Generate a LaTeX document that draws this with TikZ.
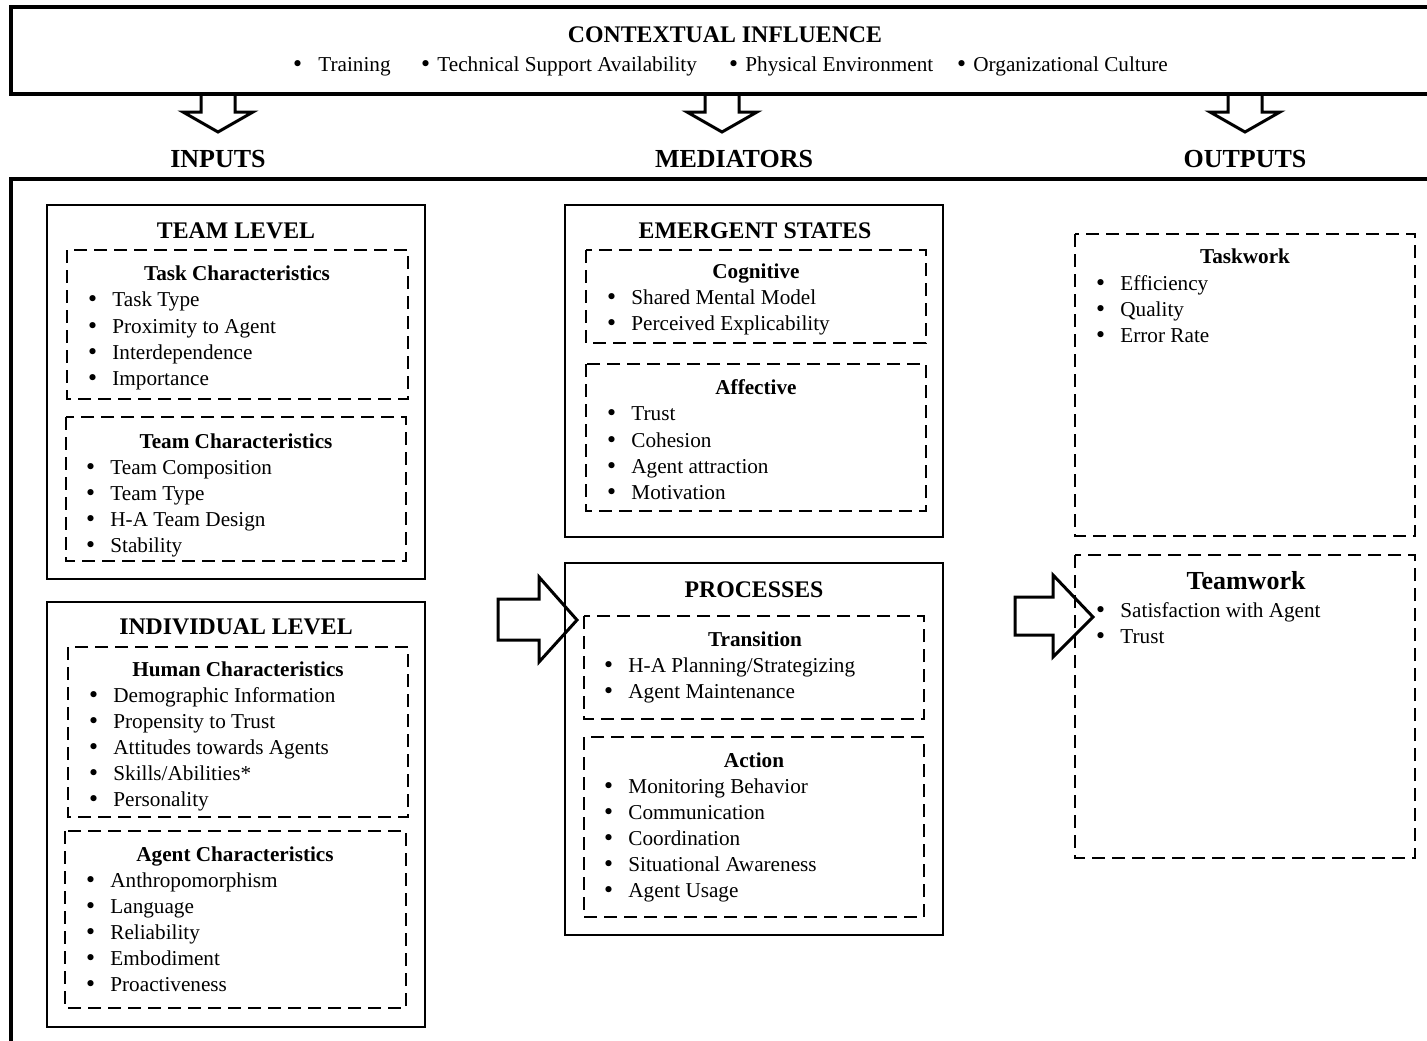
\documentclass[tikz,border=0pt]{standalone}
\usepackage{fontspec}
\setmainfont{Liberation Serif}
\newfontfamily\dotfont{DejaVu Sans}
\usetikzlibrary{positioning}
\tikzstyle{outerframe}=[line width=1.65pt]
\tikzstyle{solidbox}=[line width=0.9pt]
\tikzstyle{dashbox}=[line width=1pt, dash pattern=on 6.5pt off 3.5pt]
\tikzstyle{blockarrow}=[line width=1.5pt, miter limit=10]
\tikzstyle{colhead}=[anchor=base, inner sep=0pt, font=\fontsize{13}{15}\selectfont\bfseries]
\tikzstyle{boxhead}=[anchor=base, inner sep=0pt, font=\fontsize{11.9}{14}\selectfont\bfseries]
\tikzstyle{subhead}=[anchor=base, inner sep=0pt, font=\fontsize{10.6}{13}\selectfont\bfseries]
\tikzstyle{listitem}=[anchor=base west, inner sep=0pt, font=\fontsize{10.6}{13}\selectfont]
\newcommand{\bigdot}{{\dotfont\hspace{-1pt}•}}
\newcommand{\bul}{\makebox[12pt][l]{\bigdot}}

\begin{document}
\begin{tikzpicture}[x=0.5pt, y=-0.5pt]
            \useasboundingbox (0, 0) rectangle (1427, 1040);
            % frames
            \draw [style=outerframe] (1432, 7) -- (11, 7) -- (11, 94) -- (1432, 94);
            \draw [style=outerframe] (1432, 179) -- (11, 179) -- (11, 1045);
            \draw [style=blockarrow] (201, 94) -- (201, 112) -- (183, 112) -- (218, 132) -- (253, 112) -- (235, 112) -- (235, 94);
            \draw [style=blockarrow] (705, 94) -- (705, 112) -- (687, 112) -- (722, 132) -- (757, 112) -- (739, 112) -- (739, 94);
            \draw [style=blockarrow] (1228, 94) -- (1228, 112) -- (1210, 112) -- (1245, 132) -- (1280, 112) -- (1262, 112) -- (1262, 94);
            % inputs
            \draw [style=solidbox] (47, 205) rectangle (425, 579);
            \draw [style=dashbox] (67, 250) rectangle (408, 399);
            \draw [style=dashbox] (66, 417) rectangle (406, 561);
            \draw [style=solidbox] (47, 602) rectangle (425, 1027);
            \draw [style=dashbox] (68, 647) rectangle (408, 817);
            \draw [style=dashbox] (65, 831) rectangle (406, 1008);
            % mediators
            \draw [style=solidbox] (565, 205) rectangle (943, 537);
            \draw [style=dashbox] (586, 250) rectangle (926, 343);
            \draw [style=dashbox] (586, 364) rectangle (926, 511);
            \draw [style=solidbox] (565, 563) rectangle (943, 935);
            \draw [style=dashbox] (584, 616) rectangle (924, 719);
            \draw [style=dashbox] (584, 737) rectangle (924, 917);
            % outputs
            \draw [style=dashbox] (1075, 234) rectangle (1415, 536);
            \draw [style=dashbox] (1075, 555) rectangle (1415, 858);
            \draw [style=blockarrow] (498, 599) -- (539, 599) -- (539, 577) -- (577, 620) -- (539, 662) -- (539, 640) -- (498, 640) -- cycle;
            \draw [style=blockarrow] (1015, 597) -- (1053, 597) -- (1053, 575) -- (1093, 617) -- (1053, 657) -- (1053, 635) -- (1015, 635) -- cycle;
            % texts
            \node [style=boxhead] (0) at (725, 42) {CONTEXTUAL INFLUENCE};
            \node [style=listitem] (1) at (293, 71) {\makebox[12.5pt][l]{\bigdot}Training};
            \node [style=listitem] (2) at (421, 71) {\makebox[8pt][l]{\bigdot}Technical Support Availability};
            \node [style=listitem] (3) at (729, 71) {\makebox[8pt][l]{\bigdot}Physical Environment};
            \node [style=listitem] (4) at (957, 71) {\makebox[8pt][l]{\bigdot}Organizational Culture};
            \node [style=colhead] (5) at (218, 167) {INPUTS};
            \node [style=colhead] (6) at (734, 167) {MEDIATORS};
            \node [style=colhead] (7) at (1245, 167) {OUTPUTS};
            \node [style=boxhead] (8) at (236, 238) {TEAM LEVEL};
            \node [style=subhead] (9) at (237, 280) {Task Characteristics};
            \node [style=listitem] (10) at (88, 306) {\bul Task Type};
            \node [style=listitem] (11) at (88, 333) {\bul Proximity to Agent};
            \node [style=listitem] (12) at (88, 359) {\bul Interdependence};
            \node [style=listitem] (13) at (88, 385) {\bul Importance};
            \node [style=subhead] (14) at (236, 448) {Team Characteristics};
            \node [style=listitem] (15) at (86, 474) {\bul Team Composition};
            \node [style=listitem] (16) at (86, 500) {\bul Team Type};
            \node [style=listitem] (17) at (86, 526) {\bul H-A Team Design};
            \node [style=listitem] (18) at (86, 552) {\bul Stability};
            \node [style=boxhead] (19) at (236, 634) {INDIVIDUAL LEVEL};
            \node [style=subhead] (20) at (238, 676) {Human Characteristics};
            \node [style=listitem] (21) at (89, 702) {\bul Demographic Information};
            \node [style=listitem] (22) at (89, 728) {\bul Propensity to Trust};
            \node [style=listitem] (23) at (89, 754) {\bul Attitudes towards Agents};
            \node [style=listitem] (24) at (89, 780) {\bul Skills/Abilities*};
            \node [style=listitem] (25) at (89, 806) {\bul Personality};
            \node [style=subhead] (26) at (235, 861) {Agent Characteristics};
            \node [style=listitem] (27) at (86, 887) {\bul Anthropomorphism};
            \node [style=listitem] (28) at (86, 913) {\bul Language};
            \node [style=listitem] (29) at (86, 939) {\bul Reliability};
            \node [style=listitem] (30) at (86, 965) {\bul Embodiment};
            \node [style=listitem] (31) at (86, 991) {\bul Proactiveness};
            \node [style=boxhead] (32) at (755, 238) {EMERGENT STATES};
            \node [style=subhead] (33) at (756, 278) {Cognitive};
            \node [style=listitem] (34) at (607, 304) {\bul Shared Mental Model};
            \node [style=listitem] (35) at (607, 330) {\bul Perceived Explicability};
            \node [style=subhead] (36) at (756, 394) {Affective};
            \node [style=listitem] (37) at (607, 420) {\bul Trust};
            \node [style=listitem] (38) at (607, 447) {\bul Cohesion};
            \node [style=listitem] (39) at (607, 473) {\bul Agent attraction};
            \node [style=listitem] (40) at (607, 499) {\bul Motivation};
            \node [style=boxhead] (41) at (754, 597) {PROCESSES};
            \node [style=subhead] (42) at (755, 646) {Transition};
            \node [style=listitem] (43) at (604, 672) {\bul H-A Planning/Strategizing};
            \node [style=listitem] (44) at (604, 698) {\bul Agent Maintenance};
            \node [style=subhead] (45) at (754, 767) {Action};
            \node [style=listitem] (46) at (604, 793) {\bul Monitoring Behavior};
            \node [style=listitem] (47) at (604, 819) {\bul Communication};
            \node [style=listitem] (48) at (604, 845) {\bul Coordination};
            \node [style=listitem] (49) at (604, 871) {\bul Situational Awareness};
            \node [style=listitem] (50) at (604, 897) {\bul Agent Usage};
            \node [style=subhead] (51) at (1245, 263) {Taskwork};
            \node [style=listitem] (52) at (1096, 290) {\bul Efficiency};
            \node [style=listitem] (53) at (1096, 316) {\bul Quality};
            \node [style=listitem] (54) at (1096, 342) {\bul Error Rate};
            \node [style=colhead] (55) at (1246, 589) {Teamwork};
            \node [style=listitem] (56) at (1096, 617) {\bul Satisfaction with Agent};
            \node [style=listitem] (57) at (1096, 643) {\bul Trust};
\end{tikzpicture}
\end{document}
